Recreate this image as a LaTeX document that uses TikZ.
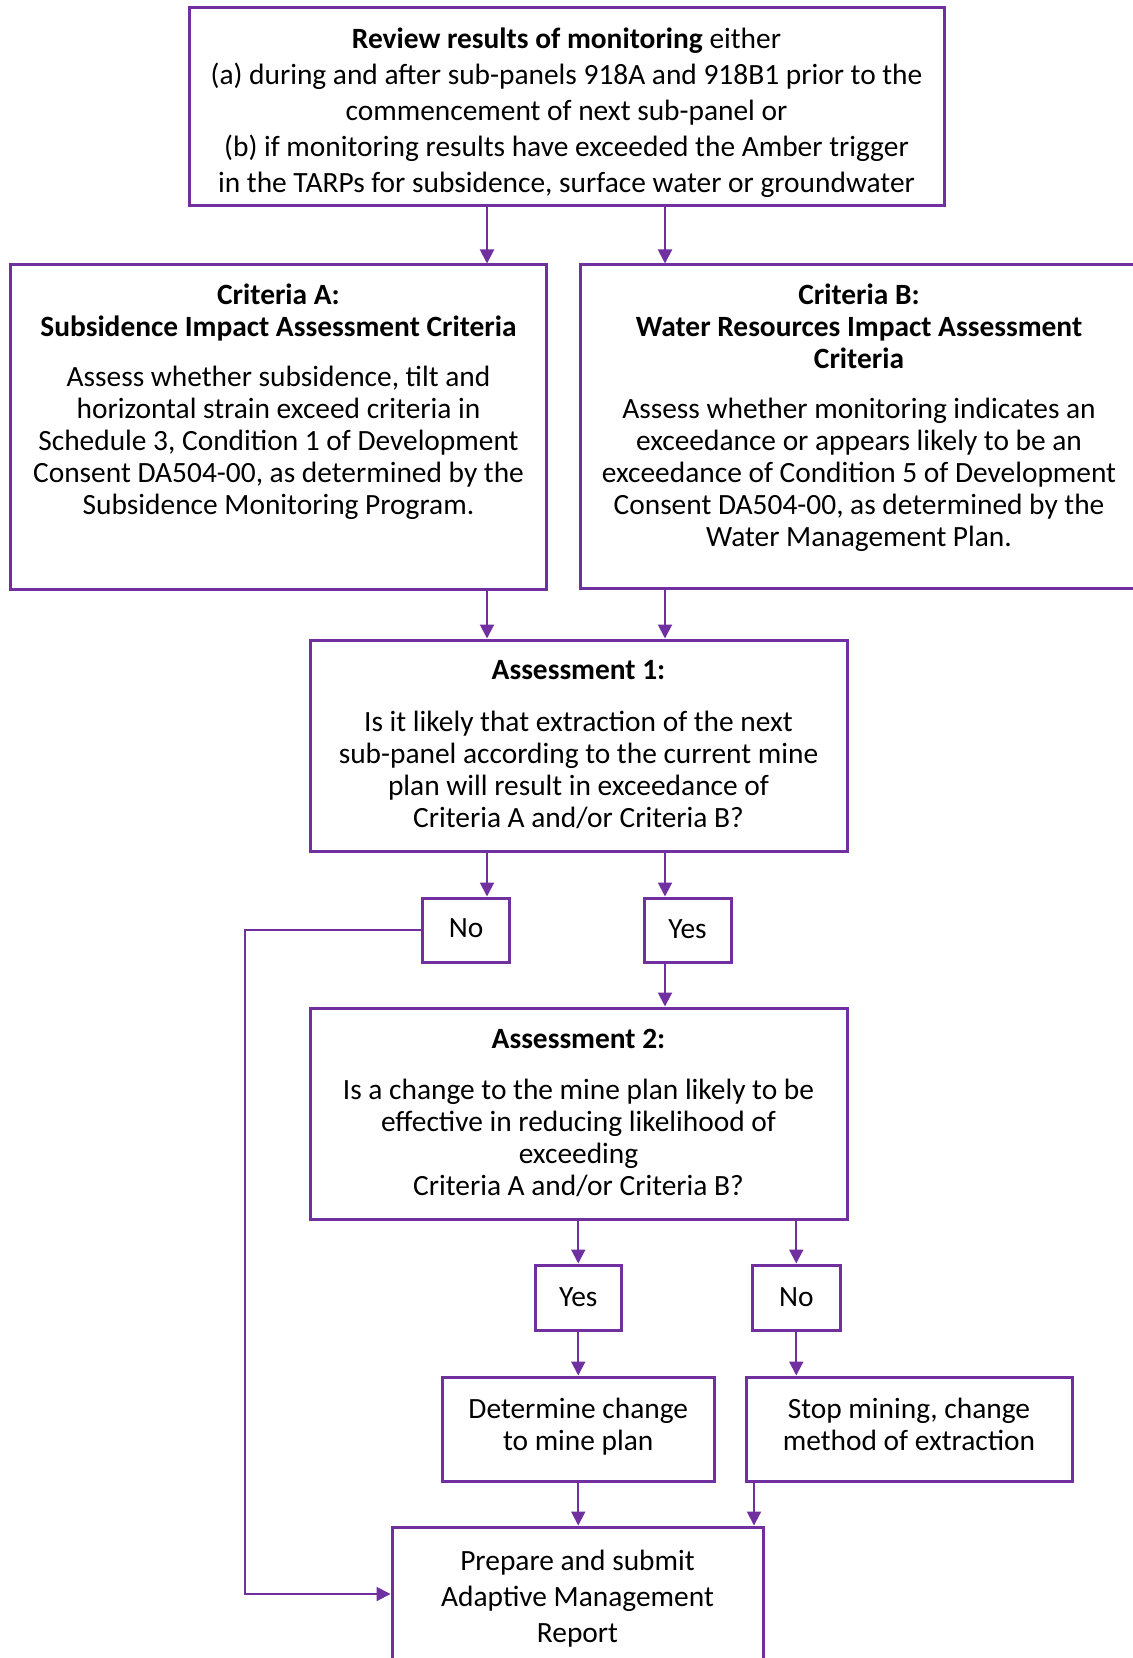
\documentclass[tikz,border=0pt]{standalone}
\usepackage{fontspec}
\setmainfont{Carlito}
\usetikzlibrary{arrows.meta}
\definecolor{pur}{HTML}{7030A0}
\begin{document}
\begin{tikzpicture}[x=0.5pt,y=-0.5pt,
  box/.style={draw=pur, line width=1.5pt, inner sep=0pt, rectangle},
  txt/.style={font=\fontsize{14.7}{16}\selectfont, align=center, inner sep=0pt,
    execute at begin node=\strut, execute at end node=\strut},
  wtxt/.style={font=\fontsize{14.7}{18}\selectfont, align=center, inner sep=0pt,
    execute at begin node=\strut, execute at end node=\strut},
  arr/.style={draw=pur, line width=1pt, -{Triangle[width=7pt,length=7pt]}}]
\useasboundingbox (0,0) rectangle (1132,1658);
% boxes
\node[box, minimum width=377.5pt, minimum height=99pt] (top) at (566.5,107) {};
\node[box, minimum width=268pt, minimum height=162pt] (ca) at (278.5,427) {};
\node[box, minimum width=279pt, minimum height=161.5pt] (cb) at (859,426.5) {};
\node[box, minimum width=268.5pt, minimum height=105.5pt] (a1) at (578.5,745.5) {};
\node[box, minimum width=43.75pt, minimum height=32pt] (no1) at (465.75,930) {};
\node[box, minimum width=43.5pt, minimum height=32pt] (yes1) at (687.5,930) {};
\node[box, minimum width=268.5pt, minimum height=105.5pt] (a2) at (578.5,1113.5) {};
\node[box, minimum width=43.25pt, minimum height=32.5pt] (yes2) at (578.25,1297.5) {};
\node[box, minimum width=43.75pt, minimum height=32.5pt] (no2) at (796.25,1297.5) {};
\node[box, minimum width=136.25pt, minimum height=52pt] (det) at (578.25,1429) {};
\node[box, minimum width=163pt, minimum height=52pt] (stop) at (909,1429) {};
\node[box, minimum width=185.5pt, minimum height=86.5pt] (prep) at (577.5,1613.5) {};
% texts
\node[wtxt] (toptxt) at (566.5,116) {\textbf{Review results of monitoring} either\\
(a) during and after sub-panels 918A and 918B1 prior to the\\
commencement of next sub-panel or\\
(b) if monitoring results have exceeded the Amber trigger\\
in the TARPs for subsidence, surface water or groundwater};
\node[txt] (catxt) at (278.5,403.5) {\textbf{Criteria A:}\\
\textbf{Subsidence Impact Assessment Criteria}\\[9pt]
Assess whether subsidence, tilt and\\
horizontal strain exceed criteria in\\
Schedule 3, Condition 1 of Development\\
Consent DA504-00, as determined by the\\
Subsidence Monitoring Program.};
\node[txt] (cbtxt) at (859,420) {\textbf{Criteria B:}\\
\textbf{Water Resources Impact Assessment}\\
\textbf{Criteria}\\[9pt]
Assess whether monitoring indicates an\\
exceedance or appears likely to be an\\
exceedance of Condition 5 of Development\\
Consent DA504-00, as determined by the\\
Water Management Plan.};
\node[txt] (a1txt) at (578.5,749) {\textbf{Assessment 1:}\\[10pt]
Is it likely that extraction of the next\\
sub-panel according to the current mine\\
plan will result in exceedance of\\
Criteria A and/or Criteria B?};
\node[txt] (no1txt) at (466,931) {No};
\node[txt] (yes1txt) at (687.5,932) {Yes};
\node[txt] (a2txt) at (578.5,1117) {\textbf{Assessment 2:}\\[9.5pt]
Is a change to the mine plan likely to be\\
effective in reducing likelihood of\\
exceeding\\
Criteria A and/or Criteria B?};
\node[txt] (yes2txt) at (578.25,1300) {Yes};
\node[txt] (no2txt) at (796.25,1300) {No};
\node[txt] (dettxt) at (578.25,1429) {Determine change\\to mine plan};
\node[txt] (stoptxt) at (909,1429) {Stop mining, change\\method of extraction};
\node[wtxt] (preptxt) at (577.5,1602) {Prepare and submit\\Adaptive Management\\Report};
% connectors
\draw[arr] (487,0 |- top.south) -- (487,0 |- ca.north);
\draw[arr] (665,0 |- top.south) -- (665,0 |- cb.north);
\draw[arr] (487,0 |- ca.south) -- (487,0 |- a1.north);
\draw[arr] (665,0 |- cb.south) -- (665,0 |- a1.north);
\draw[arr] (487,0 |- a1.south) -- (487,0 |- no1.north);
\draw[arr] (665,0 |- a1.south) -- (665,0 |- yes1.north);
\draw[arr] (665,0 |- yes1.south) -- (665,0 |- a2.north);
\draw[arr] (no1.west) -- (245,0 |- no1.west) -- (245,1594) -- (prep.west |- 0,1594);
\draw[arr] (yes2.north |- a2.south) -- (yes2.north);
\draw[arr] (no2.north |- a2.south) -- (no2.north);
\draw[arr] (yes2.south) -- (det.north);
\draw[arr] (no2.south) -- (no2.south |- stop.north);
\draw[arr] (det.south) -- (det.south |- prep.north);
\draw[arr] (754,0 |- stop.south) -- (754,0 |- prep.north);
\end{tikzpicture}
\end{document}
